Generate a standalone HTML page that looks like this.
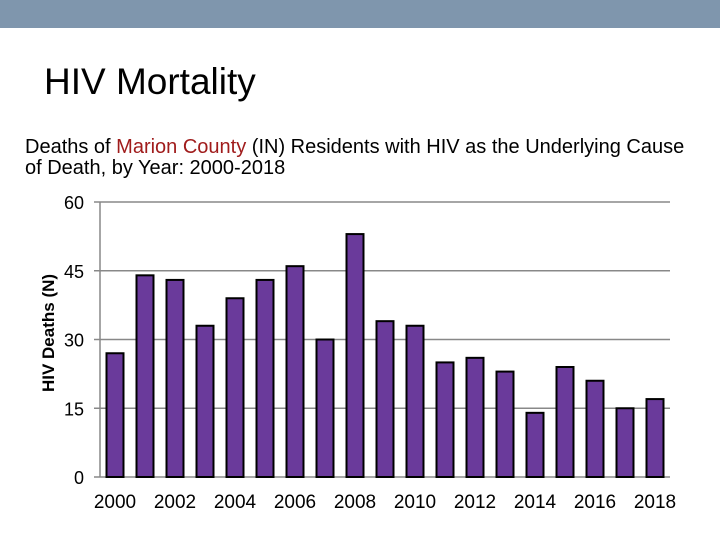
<!DOCTYPE html>
<html><head><meta charset="utf-8"><style>
body{margin:0;width:720px;height:540px;background:#fff;overflow:hidden;font-family:"Liberation Sans",sans-serif;position:relative}
</style></head><body>
<div style="position:absolute;left:0;top:0;width:720px;height:28px;background:#7f96ad"></div>
<div style="position:absolute;left:44px;top:61px;font-size:37px;color:#000">HIV Mortality</div>
<div style="position:absolute;left:25px;top:137px;font-size:20px;line-height:21px;color:#000;white-space:nowrap">Deaths of <span style="color:#a01c1c">Marion County</span> (IN) Residents with HIV as the Underlying Cause<br>of Death, by Year: 2000-2018</div>
<svg id="chart" width="720" height="540" style="position:absolute;left:0;top:0"></svg>
<script>
const years=["2000","2001","2002","2003","2004","2005","2006","2007","2008","2009","2010","2011","2012","2013","2014","2015","2016","2017","2018"];
const deaths=[27,44,43,33,39,43,46,30,53,34,33,25,26,23,14,24,21,15,17];
const yTicks=[0,15,30,45,60];
const svg=document.getElementById('chart');
const NS='http://www.w3.org/2000/svg';
const L=100,R=670,T=202,B=477,maxV=60;
const y=v=>B-(v/maxV)*(B-T);
const step=(R-L)/years.length;
const x=i=>L+step*(i+0.5);
function mk(t,a){const e=document.createElementNS(NS,t);for(const k in a)e.setAttribute(k,a[k]);svg.appendChild(e);return e;}
yTicks.forEach(v=>{
 const g=mk('line',{x1:94,x2:R,y1:y(v),y2:y(v),stroke:'#888','stroke-width':1.5});
 
 
 const t=mk('text',{x:84,y:y(v)+7,'text-anchor':'end','font-size':18,fill:'#000','font-family':'Liberation Sans'});
 t.textContent=v;
 
 
});
const ax=mk('line',{x1:L,x2:L,y1:T,y2:B,stroke:'#888','stroke-width':1.5});


deaths.forEach((d,i)=>{
 const b=mk('rect',{x:x(i)-8.5,y:y(d),width:17,height:B-y(d),fill:'#6a3a9b',stroke:'#000','stroke-width':2});
 
 
});
years.forEach((yr,i)=>{
 if(i%2)return;
 const t=mk('text',{x:x(i),y:508,'text-anchor':'middle','font-size':19,fill:'#000','font-family':'Liberation Sans'});
 t.textContent=yr;
 
 
});
const yt=mk('text',{x:0,y:0,transform:'translate(54,333) rotate(-90)','text-anchor':'middle','font-size':17,'font-weight':'bold',fill:'#000','font-family':'Liberation Sans'});
yt.textContent='HIV Deaths (N)';


</script>
</body></html>
